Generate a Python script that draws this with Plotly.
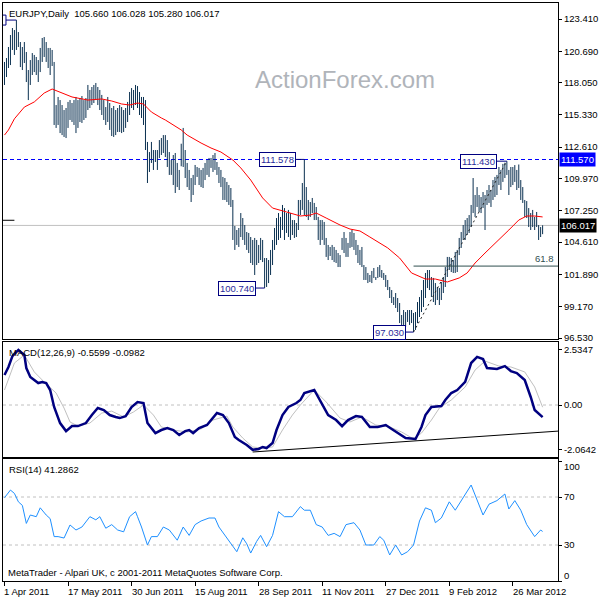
import plotly.graph_objects as go

# ---------------- data ----------------
title_text = "EURJPY,Daily  105.660 106.028 105.280 106.017"

date_idx = [0, 32, 64, 96, 128, 160, 192, 224, 256]
date_labels = ["1 Apr 2011", "17 May 2011", "30 Jun 2011", "15 Aug 2011", "28 Sep 2011",
               "11 Nov 2011", "27 Dec 2011", "9 Feb 2012", "26 Mar 2012"]

high = [
    119.79, 120.12, 121.05, 122.06, 122.65, 122.48, 123.32, 122.31, 121.47, 121.05,
    121.47, 120.63, 119.11, 119.95, 120.54, 120.38, 120.21, 119.95, 120.97, 121.81,
    121.89, 121.47, 120.97, 120.97, 120.80, 119.79, 116.16, 116.84, 116.58, 116.16,
    115.74, 115.91, 116.42, 116.58, 116.33, 116.58, 116.84, 116.58, 116.75, 116.92,
    116.58, 116.75, 117.85, 117.43, 117.68, 117.85, 118.02, 117.68, 117.43, 117.01,
    116.58, 115.99, 116.84, 116.33, 115.91, 116.08, 115.74, 115.91, 116.16, 115.99,
    115.74, 115.91, 116.42, 117.26, 117.59, 117.43, 117.85, 117.76, 117.26, 116.84,
    116.84, 116.58, 113.05, 112.20, 113.05, 112.37, 112.37, 112.37, 113.21, 113.38,
    113.63, 113.63, 113.21, 112.20, 111.53, 111.95, 112.12, 111.28, 110.69, 112.90,
    114.23, 112.37, 111.28, 110.69, 110.01, 110.27, 111.11, 110.94, 110.86, 110.69,
    110.86, 111.28, 111.53, 111.70, 111.70, 111.95, 112.12, 111.36, 110.94, 110.69,
    110.10, 110.01, 109.68, 109.42, 109.17, 108.16, 105.97, 105.63, 105.80, 107.06,
    106.64, 106.05, 105.46, 105.38, 105.04, 104.79, 104.96, 104.79, 104.37, 104.96,
    104.79, 103.27, 103.27, 103.10, 103.95, 104.79, 105.80, 106.64, 107.06, 106.73,
    107.74, 107.48, 107.06, 107.32, 107.06, 106.47, 106.47, 106.22, 108.16, 108.16,
    109.59, 111.578, 109.25, 108.16, 107.99, 108.33, 107.91, 107.57, 106.73, 106.47,
    106.47, 106.31, 104.96, 104.37, 104.20, 104.37, 104.20, 103.95, 103.69, 103.52,
    104.96, 105.46, 104.96, 104.54, 105.46, 105.63, 105.38, 104.79, 104.37, 103.95,
    104.20, 102.68, 102.51, 102.01, 101.84, 102.18, 102.43, 101.67, 102.51, 102.68,
    102.26, 102.01, 101.84, 101.42, 100.83, 100.57, 99.98, 100.32, 99.90, 99.48,
    98.47, 98.89, 98.72, 98.89, 98.89, 98.89, 98.64, 98.72, 99.56, 99.98,
    100.57, 101.42, 102.01, 102.26, 102.26, 101.67, 101.59, 101.16, 100.83, 100.74,
    101.25, 101.67, 102.51, 103.36, 103.36, 103.27, 103.10, 103.78, 103.95, 104.96,
    105.46, 106.05, 106.47, 106.64, 106.89, 107.74, 110.01, 108.58, 109.25, 108.58,
    108.41, 108.83, 108.58, 109.00, 109.42, 109.00, 109.84, 110.10, 110.27, 110.94,
    110.69, 111.20, 111.30, 111.43, 110.69, 110.94, 110.94, 111.10, 110.69, 111.15,
    109.84, 109.25, 108.16, 108.07, 107.48, 107.06, 107.32, 106.73, 107.15, 106.05,
    105.88, 106.028,
]
low = [
    117.85, 118.52, 119.28, 119.53, 120.80, 120.38, 120.80, 121.05, 119.36, 119.11,
    119.70, 118.10, 116.58, 117.85, 118.69, 118.94, 118.69, 118.10, 118.94, 119.79,
    120.21, 119.79, 119.28, 118.69, 119.45, 114.48, 114.23, 114.48, 113.80, 113.63,
    113.47, 113.38, 114.23, 114.90, 114.73, 114.48, 113.80, 114.23, 114.73, 114.65,
    114.90, 115.07, 115.74, 115.91, 116.16, 116.33, 116.58, 116.16, 115.74, 115.32,
    114.90, 114.48, 114.73, 114.06, 113.55, 113.47, 113.63, 113.89, 113.89, 113.80,
    113.89, 114.23, 114.73, 115.32, 115.91, 115.74, 116.16, 115.91, 115.32, 115.07,
    114.48, 112.37, 109.59, 110.52, 111.28, 110.69, 111.36, 110.69, 111.70, 111.95,
    112.12, 111.78, 110.94, 110.27, 110.27, 109.42, 108.75, 109.25, 109.00, 111.00,
    110.94, 110.01, 109.25, 109.00, 107.99, 108.58, 109.42, 110.10, 109.42, 109.25,
    109.17, 109.84, 110.27, 110.10, 110.86, 110.52, 110.69, 110.27, 109.59, 109.25,
    108.16, 108.16, 107.99, 107.74, 107.57, 104.79, 103.95, 104.37, 104.20, 105.04,
    104.79, 104.37, 103.95, 103.69, 102.85, 102.68, 101.84, 102.68, 102.85, 103.10,
    102.93, 100.74, 100.83, 101.16, 101.84, 102.68, 103.95, 104.37, 104.79, 104.96,
    105.63, 104.79, 105.38, 105.04, 104.79, 105.21, 104.96, 105.04, 105.63, 106.89,
    107.32, 106.89, 106.73, 106.47, 106.73, 107.06, 106.47, 106.47, 104.79, 104.37,
    104.79, 104.37, 103.36, 103.10, 103.44, 103.10, 102.93, 102.85, 102.51, 102.51,
    103.95, 103.69, 103.36, 103.36, 104.12, 104.20, 103.95, 103.52, 102.85, 102.68,
    102.51, 101.42, 101.42, 101.16, 101.25, 101.16, 101.59, 101.42, 101.59, 101.67,
    101.59, 101.42, 100.83, 100.57, 99.90, 99.48, 99.31, 99.06, 98.72, 97.79,
    97.21, 97.63, 97.46, 97.88, 97.63, 97.79, 97.03, 97.21, 97.79, 98.30,
    98.72, 99.14, 99.90, 100.74, 100.57, 99.98, 99.56, 99.31, 99.73, 99.31,
    99.73, 100.32, 100.83, 101.67, 102.26, 102.09, 102.01, 102.01, 102.09, 103.52,
    104.12, 104.79, 104.79, 105.21, 105.38, 105.88, 107.06, 106.73, 107.57, 107.15,
    107.06, 107.48, 105.63, 107.74, 107.91, 107.57, 108.16, 108.41, 108.58, 109.42,
    109.00, 109.68, 110.01, 110.27, 108.58, 109.25, 109.42, 109.68, 109.00, 109.17,
    108.16, 107.91, 106.73, 106.64, 105.88, 105.63, 105.88, 105.63, 105.88, 104.79,
    105.04, 105.28,
]

ma_idx = [0, 2, 5, 10, 15, 20, 24, 28, 34, 42, 49, 54, 59, 63, 67, 70, 74, 79, 81, 89,
          92, 99, 104, 109, 115, 119, 124, 130, 135, 142, 149, 154, 157, 162, 169, 174, 179, 184, 193, 199,
          205, 212, 217, 223, 229, 233, 237, 242, 249, 254, 259, 263, 267, 271]
ma_val = [113.63, 114.06, 115.0, 115.99, 116.42, 117.17, 117.51, 117.26, 116.84, 116.58,
          116.67, 116.50, 116.25, 116.16, 116.33, 116.25, 115.57, 115.07, 114.90, 114.06,
          113.63, 112.96, 112.54, 112.20, 111.53, 110.86, 109.84, 108.33, 107.48, 107.15,
          106.81, 106.89, 107.06, 106.64, 106.05, 105.71, 105.55, 105.04, 104.12, 103.27,
          102.01, 101.50, 101.50, 101.25, 101.59, 102.01, 102.85, 103.69, 104.79, 105.63,
          106.47, 106.81, 106.81, 106.73]

macd_idx = [0, 2, 4, 6, 7, 8, 10, 11, 13, 17, 19, 21, 23, 25, 28, 31, 34, 37, 41, 44,
            47, 50, 53, 56, 58, 61, 64, 67, 70, 72, 76, 79, 82, 85, 88, 91, 93, 95, 98, 102,
            107, 110, 113, 116, 118, 122, 125, 128, 130, 132, 135, 137, 140, 143, 147, 149, 151, 156, 158, 163,
            167, 170, 173, 177, 180, 184, 188, 192, 195, 198, 202, 207, 210, 212, 215, 220, 222, 225, 228, 232,
            235, 238, 241, 243, 248, 252, 255, 258, 262, 265, 267, 271]
macd_val = [1.38, 1.75, 2.25, 2.45, 2.53, 2.45, 2.30, 1.70, 1.29, 1.01, 1.06, 1.01, 0.69, -0.09, -0.83, -1.20, -0.97, -0.97, -0.83, -0.46,
            -0.14, -0.23, -0.46, -0.55, -0.60, -0.51, -0.09, 0.14, 0.09, -0.83, -1.29, -1.15, -1.06, -1.15, -1.38, -1.20, -1.15, -1.29, -1.06, -0.92,
            -0.37, -0.46, -0.83, -1.47, -1.61, -1.84, -2.06, -2.02, -1.93, -1.98, -1.75, -1.15, -0.46, -0.09, 0.09, 0.23, 0.55, 0.69, 0.37, -0.46,
            -0.69, -0.97, -0.69, -0.51, -0.55, -1.01, -1.01, -0.92, -1.10, -1.29, -1.52, -1.56, -1.01, -0.46, -0.09, -0.05, 0.23, 0.55, 0.69, 1.06,
            1.93, 2.21, 2.11, 1.70, 1.66, 1.79, 1.56, 1.47, 1.15, 0.37, -0.23, -0.56]

sig_idx = [0, 5, 10, 15, 20, 26, 30, 33, 37, 43, 49, 54, 60, 65, 70, 75, 79, 85, 92, 99,
           105, 112, 115, 120, 125, 130, 135, 140, 145, 149, 156, 162, 169, 174, 180, 187, 194, 200, 206, 210,
           215, 219, 225, 232, 237, 242, 249, 255, 262, 267, 271]
sig_val = [0.69, 1.93, 2.30, 1.52, 1.06, 0.55, -0.14, -0.78, -0.97, -0.83, -0.37, -0.28, -0.55, -0.32, 0.00, -0.46, -1.01, -1.15, -1.24, -1.10,
           -0.69, -0.51, -1.01, -1.52, -1.93, -1.98, -1.93, -1.15, -0.46, 0.00, 0.69, 0.14, -0.60, -0.78, -0.55, -0.92, -1.01, -1.24, -1.56, -1.29,
           -0.69, -0.14, 0.23, 0.83, 1.61, 2.02, 1.79, 1.75, 1.52, 0.83, -0.10]

rsi_idx = [0, 3, 5, 7, 9, 11, 13, 16, 18, 21, 23, 25, 27, 30, 33, 36, 39, 43, 46, 48,
           51, 54, 57, 60, 63, 66, 67, 69, 72, 74, 77, 80, 83, 87, 90, 93, 96, 99, 103, 106,
           108, 111, 114, 117, 120, 122, 124, 127, 129, 132, 135, 138, 141, 145, 149, 151, 154, 157, 160, 163,
           166, 169, 172, 176, 179, 182, 186, 189, 191, 194, 197, 200, 203, 206, 209, 212, 215, 217, 220, 224,
           227, 231, 235, 237, 241, 244, 248, 252, 254, 257, 260, 263, 267, 270, 271]
rsi_val = [69.4, 75.8, 73.0, 66.0, 63.0, 48.0, 55.0, 53.6, 61.0, 55.0, 52.0, 37.0, 37.0, 35.8, 46.7, 42.5, 45.0, 53.6, 51.0, 53.6,
           44.0, 47.0, 42.5, 41.0, 53.6, 57.8, 53.6, 45.0, 30.0, 37.0, 37.0, 45.0, 42.5, 34.0, 45.0, 38.0, 47.0, 50.0, 52.5, 52.5,
           45.0, 38.0, 31.0, 24.4, 36.0, 31.0, 23.3, 33.0, 38.0, 28.6, 38.0, 57.8, 53.6, 53.6, 62.0, 59.0, 59.0, 47.0, 45.0, 38.0,
           39.7, 37.0, 47.0, 48.6, 42.5, 30.0, 30.0, 37.0, 34.0, 21.7, 30.0, 21.7, 24.4, 30.0, 50.0, 61.0, 59.0, 48.6, 52.5, 66.0,
           59.0, 70.0, 80.0, 71.7, 55.0, 64.0, 67.0, 72.5, 60.0, 67.0, 59.0, 47.0, 37.0, 42.5, 41.3]

price_ticks = [123.41, 120.69, 118.05, 115.33, 112.61, 109.97, 107.25, 104.61, 101.89, 99.17, 96.53]
macd_ticks = [2.5347, 0.0, -2.0642]
macd_ticktext = ["2.5347", "0.00", "-2.0642"]
rsi_ticks = [100, 70, 30, 0]

resistance = 111.570
bid = 106.017
fib_level = 102.59
fib_start = 206
fib_text = "61.8"
trend_x = [206, 252.5]
trend_y = [97.03, 111.30]
macd_tl_x = [125, 278.75]
macd_tl_y = [-2.16, -1.20]
left_mark_x = [-0.75, 5]
left_mark_y = [106.45, 106.45]

# swing labels: (bar index, price, text)
swing_idx = [151, 131, 206, 253]
swing_px = [111.578, 100.74, 97.03, 111.43]
swing_txt = ["111.578", "100.740", "97.030", "111.430"]
# label of the April high, mostly hidden beyond the left edge
first_high_idx = 6
first_high_px = 123.32

macd_text = "MACD(12,26,9) -0.5599 -0.0982"
rsi_text = "RSI(14) 41.2862"
credit_text = "MetaTrader - Alpari UK, c 2001-2011 MetaQuotes Software Corp."
watermark = "ActionForex.com"

# ---------------- styling ----------------
FONT = "Tahoma, 'Liberation Sans', Arial, sans-serif"
FS = 9.5
BAR = "#0a3050"
NAVY = "#000080"
X_RANGE = [-0.75, 278.75]   # 2 px per bar, bar centres on pixel centres

n = len(high)

# high-low bars as 1px vertical segments (one segment per bar)
seg_x, seg_y = [], []
for i in range(n):
    seg_x += [i, i, None]
    seg_y += [low[i], high[i], None]

fig = go.Figure()

fig.add_trace(go.Scatter(x=seg_x, y=seg_y, mode="lines", line=dict(color=BAR, width=1),
                         connectgaps=False, xaxis="x", yaxis="y", hoverinfo="skip"))
fig.add_trace(go.Scatter(x=ma_idx, y=ma_val, mode="lines", line=dict(color="#ff0000", width=1),
                         xaxis="x", yaxis="y", hoverinfo="skip"))
fig.add_trace(go.Scatter(x=trend_x, y=trend_y, mode="lines",
                         line=dict(color="#202020", width=1, dash="2px,3px"),
                         xaxis="x", yaxis="y", hoverinfo="skip"))
fig.add_trace(go.Scatter(x=left_mark_x, y=left_mark_y, mode="lines", line=dict(color="black", width=1),
                         xaxis="x", yaxis="y", hoverinfo="skip"))

fig.add_trace(go.Scatter(x=sig_idx, y=sig_val, mode="lines", line=dict(color="#c0c0c0", width=1),
                         xaxis="x2", yaxis="y2", hoverinfo="skip"))
fig.add_trace(go.Scatter(x=macd_idx, y=macd_val, mode="lines", line=dict(color=NAVY, width=2.5),
                         xaxis="x2", yaxis="y2", hoverinfo="skip"))
fig.add_trace(go.Scatter(x=macd_tl_x, y=macd_tl_y, mode="lines", line=dict(color="black", width=1),
                         xaxis="x2", yaxis="y2", hoverinfo="skip"))

fig.add_trace(go.Scatter(x=rsi_idx, y=rsi_val, mode="lines", line=dict(color="#1e90ff", width=1),
                         xaxis="x3", yaxis="y3", hoverinfo="skip"))

shapes = [
    dict(type="line", xref="x domain", x0=0, x1=1, yref="y", y0=resistance, y1=resistance,
         line=dict(color="#0000ff", width=1, dash="4px,3px"), layer="below"),
    dict(type="line", xref="x domain", x0=0, x1=1, yref="y", y0=bid, y1=bid,
         line=dict(color="#c0c0c0", width=1), layer="below"),
    dict(type="line", xref="x", x0=fib_start, x1=X_RANGE[1], yref="y", y0=fib_level, y1=fib_level,
         line=dict(color="#2f4f4f", width=1)),
    dict(type="line", xref="x2 domain", x0=0, x1=1, yref="y2", y0=0, y1=0,
         line=dict(color="#c0c0c0", width=1, dash="3px,3px"), layer="below"),
    # April-high label: only its right edge and connector are inside the plot
    dict(type="rect", xref="x", x0=X_RANGE[0] - 20, x1=first_high_idx - 5.25, yref="y",
         y0=first_high_px - 0.42, y1=first_high_px + 0.42,
         line=dict(color=NAVY, width=1), fillcolor="white"),
    dict(type="line", xref="x", x0=first_high_idx - 5.25, x1=first_high_idx, yref="y",
         y0=first_high_px, y1=first_high_px, line=dict(color=NAVY, width=1)),
]
for lv in (70, 30):
    shapes.append(dict(type="line", xref="x3 domain", x0=0, x1=1, yref="y3", y0=lv, y1=lv,
                       line=dict(color="#c0c0c0", width=1, dash="3px,3px"), layer="below"))

ann = []
ann.append(dict(text=title_text, xref="x domain", x=0, xanchor="left", xshift=4,
                yref="y domain", y=1, yanchor="top", yshift=-3, showarrow=False,
                font=dict(family=FONT, size=FS, color="black")))
ann.append(dict(text=watermark, xref="paper", x=0.617, xanchor="center", yref="paper", y=0.8685,
                yanchor="middle", showarrow=False,
                font=dict(family="'Liberation Sans', Arial, sans-serif", size=24, color="#b0b4ba")))
offsets = [-27, -28, -24, -28]
for k in range(len(swing_idx)):
    ann.append(dict(text=swing_txt[k], x=swing_idx[k], y=swing_px[k], xref="x", yref="y",
                    showarrow=True, ax=offsets[k], ay=0, arrowhead=0, arrowwidth=1,
                    arrowcolor=NAVY, standoff=0, bgcolor="white", bordercolor=NAVY,
                    borderwidth=1, borderpad=1,
                    font=dict(family=FONT, size=FS, color="#2a2a9a")))
ann.append(dict(text=fib_text, xref="x domain", x=1, xanchor="right", xshift=-2, yref="y",
                y=fib_level, yanchor="bottom", yshift=0, showarrow=False,
                font=dict(family=FONT, size=FS, color="#2f4f4f")))
ann.append(dict(text="111.570", xref="paper", x=1, xanchor="left", xshift=1, yref="y", y=resistance,
                showarrow=False, bgcolor="#0000ff", borderpad=1,
                font=dict(family=FONT, size=FS, color="white")))
ann.append(dict(text="106.017", xref="paper", x=1, xanchor="left", xshift=1, yref="y", y=bid,
                showarrow=False, bgcolor="black", borderpad=1,
                font=dict(family=FONT, size=FS, color="white")))
ann.append(dict(text=macd_text, xref="x2 domain", x=0, xanchor="left", xshift=4,
                yref="y2 domain", y=1, yanchor="top", yshift=-3, showarrow=False,
                font=dict(family=FONT, size=FS, color="black")))
ann.append(dict(text=rsi_text, xref="x3 domain", x=0, xanchor="left", xshift=4,
                yref="y3 domain", y=1, yanchor="top", yshift=-3, showarrow=False,
                font=dict(family=FONT, size=FS, color="black")))
ann.append(dict(text=credit_text, xref="x3 domain", x=0, xanchor="left", xshift=3,
                yref="y3 domain", y=0, yanchor="bottom", yshift=1, showarrow=False,
                font=dict(family=FONT, size=FS, color="black")))
for k in range(len(date_idx)):
    ann.append(dict(text=date_labels[k], xref="x3", x=date_idx[k], xanchor="left", xshift=-2,
                    yref="paper", y=0, yanchor="top", yshift=-3, showarrow=False,
                    font=dict(family=FONT, size=FS, color="black")))
# RSI end labels are kept inside the pane, as MetaTrader does
for v, sh in ((100, -5), (0, 6)):
    ann.append(dict(text=str(v), xref="paper", x=1, xanchor="left", xshift=4, yref="y3", y=v,
                    yshift=sh, showarrow=False, font=dict(family=FONT, size=FS, color="black")))

xa = dict(range=X_RANGE, showgrid=False, zeroline=False, showline=True, mirror=True,
          linecolor="black", linewidth=1, showticklabels=False, ticks="", fixedrange=True)
ya = dict(side="right", showgrid=False, zeroline=False, showline=True, mirror=True,
          linecolor="black", linewidth=1, ticks="outside", ticklen=3, tickcolor="black",
          tickfont=dict(family=FONT, size=FS, color="black"), fixedrange=True)

fig.update_layout(
    width=600, height=600,
    margin=dict(l=2, r=39, t=3, b=19),
    paper_bgcolor="white", plot_bgcolor="white",
    showlegend=False,
    xaxis=dict(xa, anchor="y"),
    xaxis2=dict(xa, anchor="y2"),
    xaxis3=dict(xa, anchor="y3", ticks="outside", ticklen=4, tickcolor="black",
                tickvals=date_idx),
    yaxis=dict(ya, domain=[0.4187, 1.0], range=[96.447, 124.758], tickvals=price_ticks,
               ticktext=["%.3f" % v for v in price_ticks], anchor="x"),
    yaxis2=dict(ya, domain=[0.2145, 0.4135], range=[-2.391, 2.897], tickvals=macd_ticks,
                ticktext=macd_ticktext, anchor="x2"),
    yaxis3=dict(ya, domain=[0.0, 0.2111], range=[0, 101.7], tickvals=rsi_ticks,
                ticktext=["", "70", "30", ""], anchor="x3"),
    shapes=shapes, annotations=ann,
)

fig.write_html("out.html", config={"displayModeBar": False})
